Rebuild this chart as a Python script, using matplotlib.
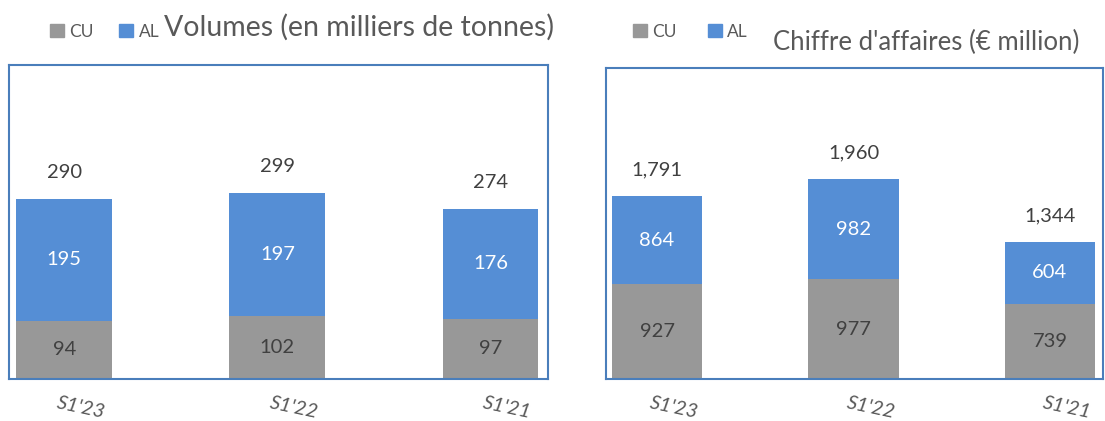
import matplotlib.pyplot as plt
from matplotlib.patches import Patch
import matplotlib.transforms as mtransforms

plt.rcParams['font.family'] = ['Lato', 'DejaVu Sans']

periods = ["S1'23", "S1'22", "S1'21"]
vol_cu = [94, 102, 97]
vol_al = [195, 197, 176]
vol_tot = [290, 299, 274]
ca_cu = [927, 977, 739]
ca_al = [864, 982, 604]
ca_tot = [1791, 1960, 1344]

GREY = '#989898'
BLUE = '#558ed5'
EDGE = '#4a7ebb'
TXT = '#404040'

fig = plt.figure(figsize=(11.05, 4.21), dpi=100)
ax1 = fig.add_axes([0.0081, 0.0998, 0.4878, 0.7458])
ax2 = fig.add_axes([0.5484, 0.0998, 0.4498, 0.7387])


def panel(ax, cu, al, tot, width, ymax, fmt):
    x = range(len(periods))
    ax.bar(x, cu, width, color=GREY)
    ax.bar(x, al, width, bottom=cu, color=BLUE)
    for i in x:
        ax.text(i, cu[i] / 2, fmt(cu[i]), ha='center', va='center', fontsize=14.5, color=TXT)
        ax.text(i, cu[i] + al[i] / 2, fmt(al[i]), ha='center', va='center', fontsize=14.5, color='white')
        ax.annotate(fmt(tot[i]), (i, cu[i] + al[i]), xytext=(0, 19), textcoords='offset points',
                    ha='center', va='center', fontsize=14.5, color=TXT)
    ax.set_xlim(-0.26, 2.27)
    ax.set_ylim(0, ymax)
    ax.set_yticks([])
    ax.set_xticks(list(x))
    ax.set_xticklabels(periods, rotation=-12, style='italic', fontsize=14.5, color='#595959')
    ax.tick_params(axis='x', length=0, pad=11)
    off = mtransforms.ScaledTranslation(0.17, 0, fig.dpi_scale_trans)
    for lab in ax.get_xticklabels():
        lab.set_transform(lab.get_transform() + off)
    for s in ax.spines.values():
        s.set_color(EDGE)
        s.set_linewidth(1.5)


panel(ax1, vol_cu, vol_al, vol_tot, 0.45, 505, lambda v: f'{v}')
panel(ax2, ca_cu, ca_al, ca_tot, 0.46, 3050, lambda v: f'{v:,}')

handles = [Patch(color=GREY, label='CU'), Patch(color=BLUE, label='AL')]
fig.legend(handles=handles, ncol=2, frameon=False, fontsize=12.5, handlelength=0.8, handleheight=0.8,
           handletextpad=0.3, columnspacing=1.5, labelcolor='#595959',
           loc='center left', bbox_to_anchor=(0.031, 0.925))
fig.text(0.1485, 0.935, 'Volumes (en milliers de tonnes)', fontsize=20.5, color='#595959', va='center')

fig.legend(handles=handles, ncol=2, frameon=False, fontsize=12.5, handlelength=0.8, handleheight=0.8,
           handletextpad=0.3, columnspacing=1.8, labelcolor='#595959',
           loc='center left', bbox_to_anchor=(0.559, 0.925))
fig.text(0.6995, 0.900, "Chiffre d'affaires (€ million)", fontsize=18.5, color='#595959', va='center')

fig.savefig('out.png', dpi=100)
